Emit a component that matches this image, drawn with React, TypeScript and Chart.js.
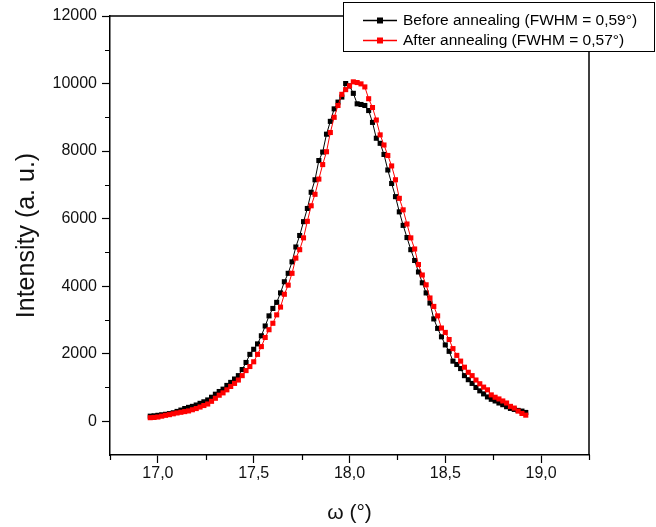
import React, { useEffect, useRef } from 'react';
import { Chart, registerables } from 'chart.js';

Chart.register(...registerables);

// ω (degrees) sampling positions
const omega = [
  16.96, 16.98, 17.0, 17.02, 17.04, 17.06, 17.08, 17.1, 17.12, 17.14,
  17.16, 17.18, 17.2, 17.22, 17.24, 17.26, 17.28, 17.3, 17.32, 17.34,
  17.36, 17.38, 17.4, 17.42, 17.44, 17.46, 17.48, 17.5, 17.52, 17.54,
  17.56, 17.58, 17.6, 17.62, 17.64, 17.66, 17.68, 17.7, 17.72, 17.74,
  17.76, 17.78, 17.8, 17.82, 17.84, 17.86, 17.88, 17.9, 17.92, 17.94,
  17.96, 17.98, 18.0, 18.02, 18.04, 18.06, 18.08, 18.1, 18.12, 18.14,
  18.16, 18.18, 18.2, 18.22, 18.24, 18.26, 18.28, 18.3, 18.32, 18.34,
  18.36, 18.38, 18.4, 18.42, 18.44, 18.46, 18.48, 18.5, 18.52, 18.54,
  18.56, 18.58, 18.6, 18.62, 18.64, 18.66, 18.68, 18.7, 18.72, 18.74,
  18.76, 18.78, 18.8, 18.82, 18.84, 18.86, 18.88, 18.9, 18.92,
];

const beforeAnnealing = [
  150, 160, 175, 190, 205, 225, 250, 290, 330, 375,
  410, 440, 480, 530, 575, 630, 710, 800, 880, 950,
  1060, 1150, 1250, 1350, 1530, 1740, 1980, 2130, 2290, 2530,
  2820, 3120, 3340, 3520, 3800, 4130, 4380, 4720, 5160, 5500,
  5910, 6300, 6780, 7150, 7720, 7970, 8500, 8880, 9250, 9450,
  9600, 10000, 9930, 9710, 9400, 9380, 9350, 9200, 8850, 8380,
  8230, 7900, 7440, 7040, 6650, 6200, 5800, 5440, 5080, 4760,
  4420, 4100, 3800, 3500, 3030, 2750, 2500, 2260, 2070, 1780,
  1680, 1560, 1350, 1230, 1120, 1000, 900, 810, 720, 650,
  600, 540, 490, 430, 380, 350, 320, 300, 260,
];

const afterAnnealing = [
  105, 112, 125, 150, 175, 195, 220, 245, 265, 285,
  305, 340, 375, 420, 465, 510, 590, 680, 770, 840,
  930, 1030, 1120, 1220, 1350, 1500, 1620, 1760, 1980, 2210,
  2480, 2710, 2900, 3150, 3380, 3760, 4030, 4380, 4830, 5080,
  5430, 5920, 6380, 6720, 7170, 7600, 7980, 8550, 9000, 9350,
  9680, 9820, 9930, 10050, 10030, 9990, 9900, 9550, 9290, 8920,
  8480, 8180, 7870, 7560, 7150, 6600, 6260, 5840, 5430, 5100,
  4640, 4330, 4040, 3650, 3400, 3120, 2760, 2630, 2420, 2150,
  1950, 1780, 1600, 1450, 1350, 1220, 1110, 1010, 930, 780,
  710, 660, 600, 540, 440, 390, 300, 230, 180,
];

const seriesLabels = [
  'Before annealing (FWHM = 0,59°)',
  'After annealing (FWHM = 0,57°)',
];
const seriesColors = ['#000000', '#ff0000'];

const FONT = '"Liberation Sans", Arial, Helvetica, sans-serif';

const isMultiple = (v: number, step: number) =>
  Math.abs(v / step - Math.round(v / step)) < 1e-6;

const framePlugin = {
  id: 'framePlugin',
  afterDraw(chart: any) {
    const { ctx, chartArea: a, scales } = chart;
    ctx.save();
    ctx.strokeStyle = '#000';
    ctx.lineWidth = 1.5;
    ctx.beginPath();
    ctx.moveTo(a.left, a.top);
    ctx.lineTo(a.right, a.top);
    ctx.lineTo(a.right, a.bottom);
    ctx.stroke();

    // minor ticks
    ctx.lineWidth = 1.2;
    const xs = scales.x;
    const ys = scales.y;
    ctx.beginPath();
    for (const t of xs.ticks) {
      if (!isMultiple(t.value, 0.5)) {
        const px = Math.round(xs.getPixelForValue(t.value)) + 0.5;
        ctx.moveTo(px, a.bottom);
        ctx.lineTo(px, a.bottom + 5);
      }
    }
    for (const t of ys.ticks) {
      if (!isMultiple(t.value, 2000) && t.value > -1000) {
        const py = Math.round(ys.getPixelForValue(t.value)) + 0.5;
        ctx.moveTo(a.left, py);
        ctx.lineTo(a.left - 5, py);
      }
    }
    ctx.stroke();

    // legend box
    const bx = 343.5, by = 2.5, bw = 311, bh = 49;
    ctx.fillStyle = '#fff';
    ctx.fillRect(bx, by, bw, bh);
    ctx.strokeStyle = '#000';
    ctx.lineWidth = 1;
    ctx.strokeRect(bx, by, bw, bh);
    ctx.font = `15.5px ${FONT}`;
    ctx.textBaseline = 'middle';
    ctx.textAlign = 'left';
    const rows = [20, 40];
    seriesLabels.forEach((lab, i) => {
      const y = rows[i];
      ctx.strokeStyle = seriesColors[i];
      ctx.lineWidth = 1.5;
      ctx.beginPath();
      ctx.moveTo(363, y + 0.5);
      ctx.lineTo(397, y + 0.5);
      ctx.stroke();
      ctx.fillStyle = seriesColors[i];
      ctx.fillRect(377, y - 2.5, 6, 6);
      ctx.fillStyle = '#000';
      ctx.fillText(lab, 403, y + 1);
    });
    ctx.restore();
  },
};

export default function App() {
  const canvasRef = useRef<HTMLCanvasElement | null>(null);

  useEffect(() => {
    const canvas = canvasRef.current;
    if (!canvas) return;
    const series = [beforeAnnealing, afterAnnealing];
    const chart = new Chart(canvas, {
      type: 'line',
      data: {
        datasets: series.map((vals, i) => ({
          label: seriesLabels[i],
          data: omega.map((x, j) => ({ x, y: vals[j] })),
          borderColor: seriesColors[i],
          backgroundColor: seriesColors[i],
          borderWidth: 1,
          pointStyle: 'rect',
          pointRadius: 3.6,
          pointBorderWidth: 0,
          tension: 0,
          order: i === 0 ? 1 : 0,
        })),
      },
      options: {
        animation: false,
        responsive: false,
        maintainAspectRatio: false,
        layout: { padding: { left: 0, top: 16, right: 67, bottom: 0 } },
        plugins: {
          legend: { display: false },
          tooltip: { enabled: false },
        },
        scales: {
          x: {
            type: 'linear',
            min: 16.75,
            max: 19.25,
            afterFit: (s: any) => {
              s.height = 72;
            },
            border: { display: true, color: '#000', width: 1.5 },
            grid: {
              display: true,
              drawOnChartArea: false,
              drawTicks: true,
              tickLength: 8,
              tickWidth: 1.2,
              tickColor: (c: any) =>
                c.tick && isMultiple(c.tick.value, 0.5) ? '#000' : 'rgba(0,0,0,0)',
            },
            ticks: {
              stepSize: 0.25,
              autoSkip: false,
              maxRotation: 0,
              padding: 1,
              color: '#111',
              font: { family: FONT, size: 16 },
              callback: (v: any) =>
                isMultiple(Number(v), 0.5) ? Number(v).toFixed(1).replace('.', ',') : '',
            },
            title: {
              display: true,
              text: 'ω (°)',
              color: '#111',
              font: { family: FONT, size: 21 },
              padding: { top: 0, bottom: 1 },
            },
          },
          y: {
            type: 'linear',
            min: -1000,
            max: 12000,
            afterFit: (s: any) => {
              s.width = 110;
            },
            border: { display: true, color: '#000', width: 1.5 },
            grid: {
              display: true,
              drawOnChartArea: false,
              drawTicks: true,
              tickLength: 8,
              tickWidth: 1.2,
              tickColor: (c: any) =>
                c.tick && isMultiple(c.tick.value, 2000) ? '#000' : 'rgba(0,0,0,0)',
            },
            ticks: {
              stepSize: 1000,
              autoSkip: false,
              padding: 5,
              color: '#111',
              font: { family: FONT, size: 16 },
              callback: (v: any) =>
                isMultiple(Number(v), 2000) ? String(v) : '',
            },
            title: {
              display: true,
              text: 'Intensity (a. u.)',
              color: '#111',
              font: { family: FONT, size: 25 },
              padding: { top: 12, bottom: 0 },
            },
          },
        },
      },
      plugins: [framePlugin],
    });
    return () => chart.destroy();
  }, []);

  return (
    <div
      style={{
        position: 'absolute',
        left: 0,
        top: 0,
        width: 656,
        height: 527,
        background: '#fff',
      }}
    >
      <canvas ref={canvasRef} width={656} height={527} />
    </div>
  );
}
